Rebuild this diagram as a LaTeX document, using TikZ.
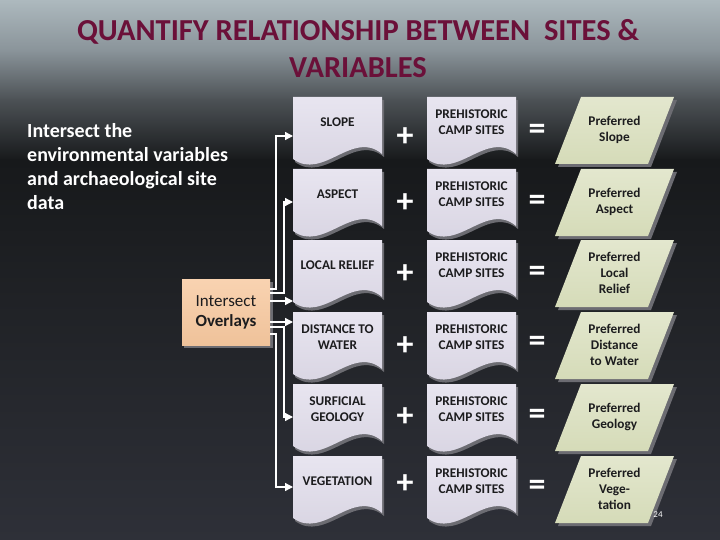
\documentclass[tikz,border=0pt]{standalone}
\usepackage{fontspec}
\setmainfont{Carlito}
\usetikzlibrary{arrows.meta}
\definecolor{bgA}{HTML}{ADB9BE}
\definecolor{bgB}{HTML}{8A949A}
\definecolor{bgC}{HTML}{4C5155}
\definecolor{bgD}{HTML}{17191B}
\definecolor{bgE}{HTML}{202226}
\definecolor{bgF}{HTML}{2E3038}
\definecolor{titlec}{HTML}{6B1039}
\definecolor{docA}{HTML}{E8E5F0}
\definecolor{docB}{HTML}{D6D2E0}
\definecolor{paraA}{HTML}{E3E7CE}
\definecolor{paraB}{HTML}{D5DBB8}
\definecolor{peachA}{HTML}{F9D3B1}
\definecolor{peachB}{HTML}{EFC29A}
\definecolor{shadowc}{HTML}{6C6C72}
\definecolor{inkc}{HTML}{1C1C1E}
\tikzset{
  boxtext/.style={font=\bfseries\fontsize{13.3}{16}\selectfont, text=inkc, align=center, inner sep=0},
  opsym/.style={font=\bfseries\fontsize{34}{34}\selectfont, text=white, inner sep=0},
  conn/.style={draw=white, line width=1.3pt, -{Triangle[length=8pt,width=8pt]}},
  titletext/.style={font=\bfseries\fontsize{30.5}{36}\selectfont, text=titlec},
}
\newcommand\docbox[4]{%
  \begin{scope}[shift={(#2,#3)}]
    \fill[shadowc, shift={(2,3)}] (0,0) -- (89,0) -- (89,57) .. controls (60,32) and (30,84) .. (0,62) -- cycle;
    \shade[top color=docA, bottom color=docB] (0,0) -- (89,0) -- (89,57) .. controls (60,32) and (30,84) .. (0,62) -- cycle;
    \coordinate (#1-nw) at (0,0);
    \node[boxtext] (#1) at (44.5,25) {#4};
  \end{scope}}
\newcommand\parabox[3]{%
  \begin{scope}[shift={(555,#2)}]
    \fill[shadowc, shift={(3,3)}] (26,0) -- (119,0) -- (93,67) -- (0,67) -- cycle;
    \shade[top color=paraA, bottom color=paraB] (26,0) -- (119,0) -- (93,67) -- (0,67) -- cycle;
    \node[boxtext] (#1) at (59.5,33) {#3};
  \end{scope}}
\begin{document}
\begin{tikzpicture}[x=1pt,y=-1pt]
\useasboundingbox (0,0) rectangle (720,540);
% background
\shade[top color=bgA, bottom color=bgB] (0,0) rectangle (720,50.5);
\shade[top color=bgB, bottom color=bgC] (0,50) rectangle (720,100.5);
\shade[top color=bgC, bottom color=bgD] (0,100) rectangle (720,160.5);
\shade[top color=bgD, bottom color=bgE] (0,160) rectangle (720,300.5);
\shade[top color=bgE, bottom color=bgF] (0,300) rectangle (720,540);
% title
\node[titletext] (t1) at (358,32) {QUANTIFY RELATIONSHIP BETWEEN\ \ SITES \&};
\node[titletext] (t2) at (358,68) {VARIABLES};
% left text
\node[anchor=north west, inner sep=0, align=left, text=white, font=\bfseries\fontsize{20}{24}\selectfont] (lt) at (27,123)
  {Intersect the\\environmental variables\\and archaeological site\\data};
% intersect overlays box
\fill[shadowc] (184,282) rectangle (273,348);
\shade[top color=peachA, bottom color=peachB] (182,279) rectangle (270,345);
\node[align=center, inner sep=0, text=inkc, font=\fontsize{17}{20}\selectfont] (io) at (226,312.5)
  {Intersect\\\textbf{Overlays}};
\coordinate (ioe) at (270,312.5);
% rows
\docbox{slope}{293}{97}{SLOPE}
\docbox{aspect}{293}{169}{ASPECT}
\docbox{relief}{293}{240}{LOCAL RELIEF}
\docbox{water}{293}{312}{DISTANCE TO\\WATER}
\docbox{geology}{293}{384}{SURFICIAL\\GEOLOGY}
\docbox{veg}{293}{456}{VEGETATION}
\foreach \n/\y in {1/97,2/169,3/240,4/312,5/384,6/456}{
  \docbox{camp\n}{427}{\y}{PREHISTORIC\\CAMP SITES}
}
\parabox{pslope}{97}{Preferred\\Slope}
\parabox{paspect}{169}{Preferred\\Aspect}
\parabox{prelief}{240}{Preferred\\Local\\Relief}
\parabox{pwater}{312}{Preferred\\Distance\\to Water}
\parabox{pgeology}{384}{Preferred\\Geology}
\parabox{pveg}{456}{Preferred\\Vege-\\tation}
% operators
\foreach \n/\yp/\ye in {1/137/132,2/203/203,3/274/274,4/346/344,5/417/417,6/484/488}{
  \node[opsym] (plus\n) at (405,\yp) {+};
  \node[opsym] (eq\n) at (537,\ye) {=};
}
% connectors
\draw[conn] ([yshift=23.5pt]ioe) -- ++(6,0) |- ([yshift=-39pt]slope-nw);
\draw[conn] ([yshift=19.5pt]ioe) -- ++(14,0) |- ([yshift=-33pt]aspect-nw);
\draw[conn] ([yshift=11.5pt]ioe) -- ([yshift=-61pt]relief-nw);
\draw[conn] ([yshift=-9.5pt]ioe) -- ([yshift=-10pt]water-nw);
\draw[conn] ([yshift=-14.5pt]ioe) -- ++(14,0) |- ([yshift=-33pt]geology-nw);
\draw[conn] ([yshift=-21.5pt]ioe) -- ++(6,0) |- ([yshift=-31pt]veg-nw);
% page number
\node[text=white, font=\fontsize{9}{10}\selectfont, inner sep=0] (pn) at (658,515) {24};
\end{tikzpicture}
\end{document}
